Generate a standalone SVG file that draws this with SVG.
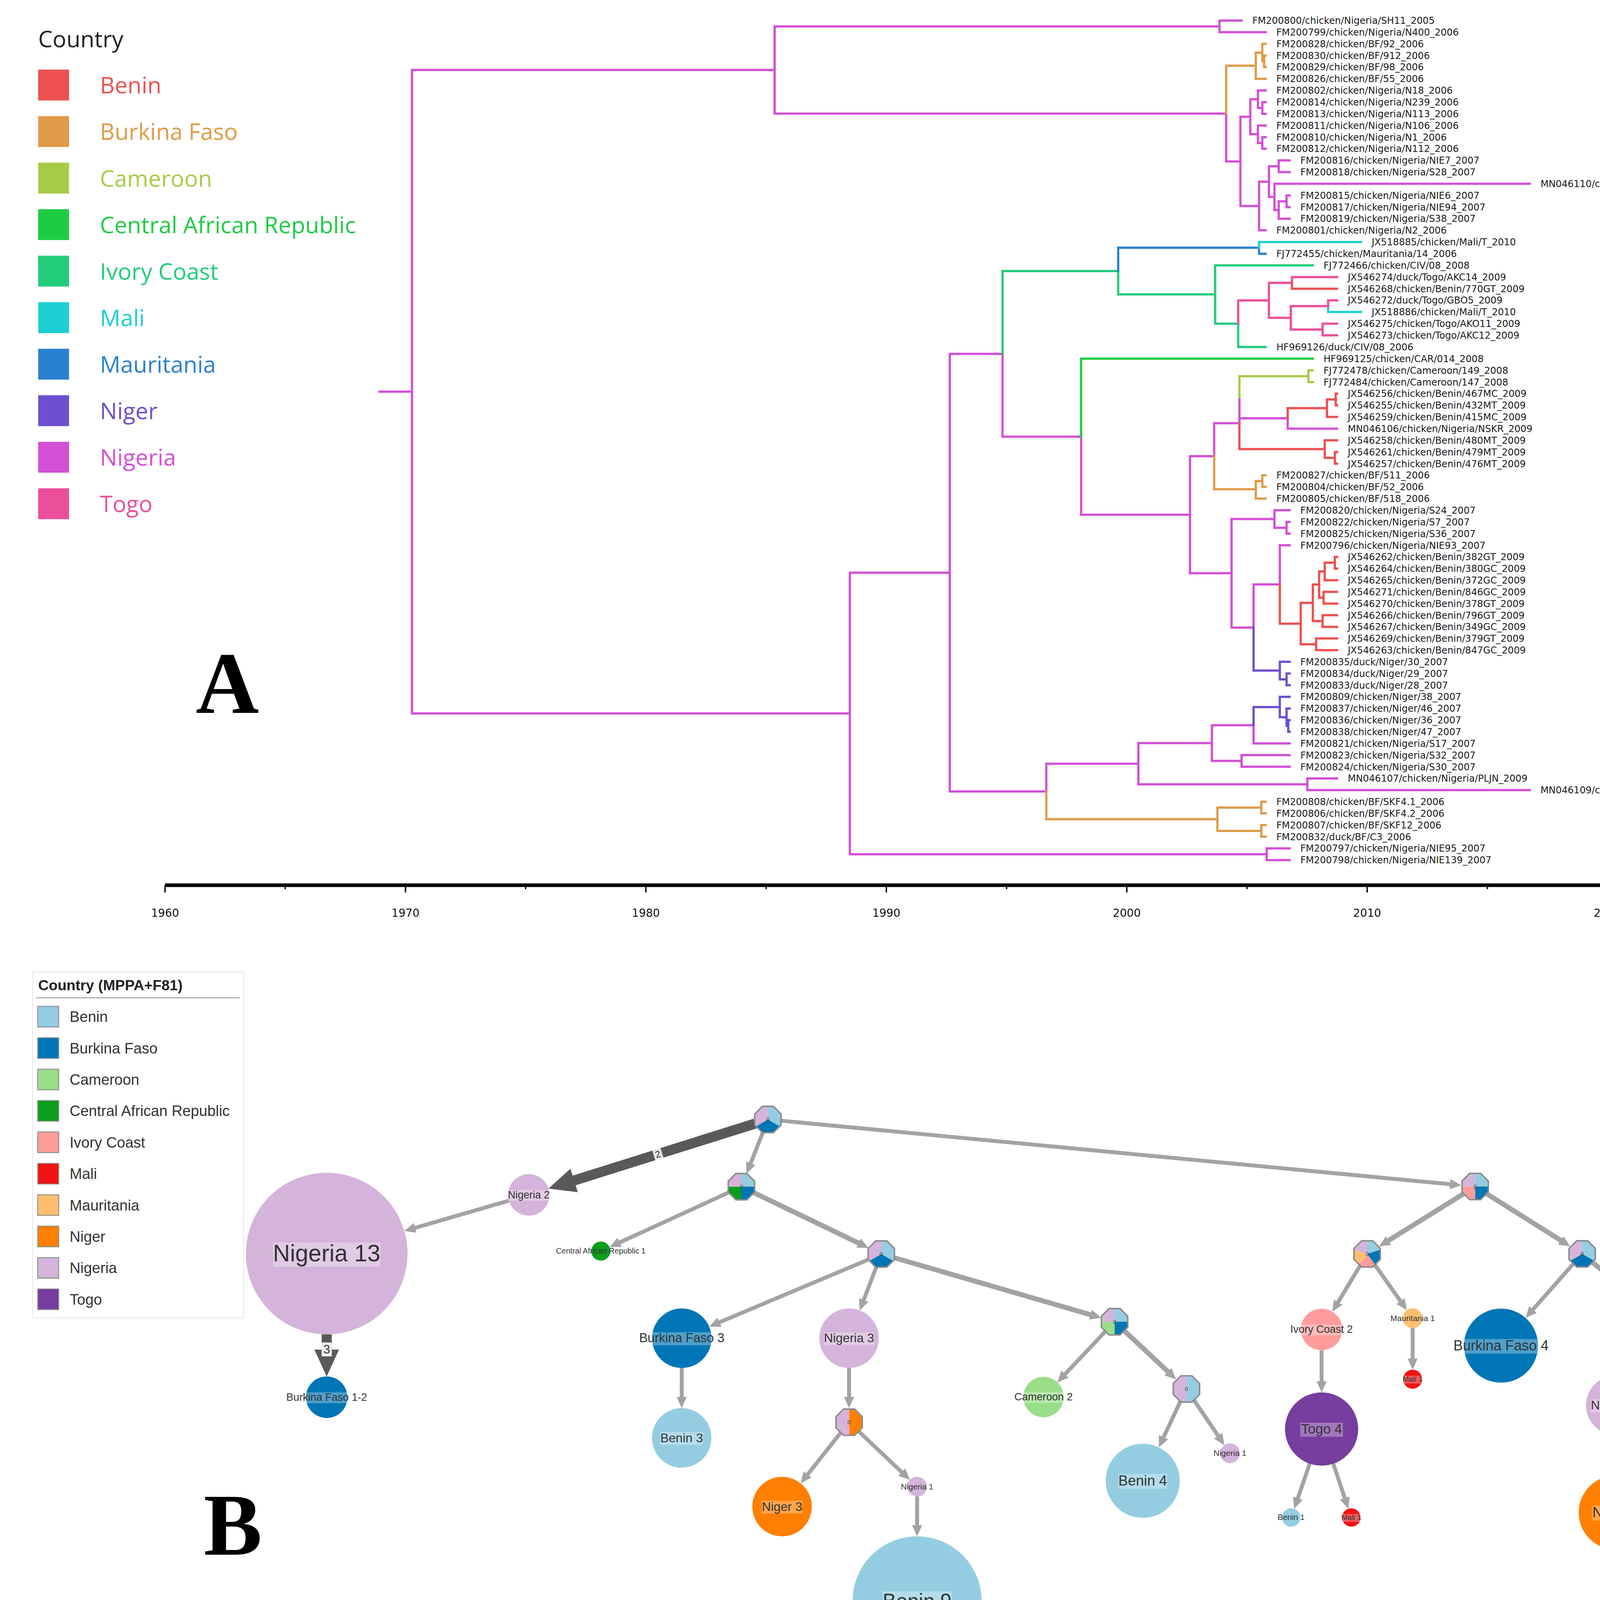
<svg xmlns="http://www.w3.org/2000/svg" width="4489" height="4326" viewBox="0 0 4489 4326">
<defs>
<style>
.b{fill:none;stroke-width:2;stroke-linecap:square}
.cN{stroke:#d24fd6}.cBF{stroke:#e09a48}.cCM{stroke:#a6cc46}.cCAR{stroke:#1ecc44}.cIC{stroke:#22cc7a}.cML{stroke:#1ecfd2}.cMR{stroke:#2c80d2}.cNG{stroke:#6e4fd2}.cBN{stroke:#ee5050}.cTG{stroke:#ec4f9a}
.tip text{font-family:'DejaVu Sans',sans-serif;font-size:8.4px;fill:#1a1a1a}
.ax{font-family:'DejaVu Sans',sans-serif;font-size:9.8px;fill:#111;text-anchor:middle}
.lgA{font-family:'Open Sans','Liberation Sans',sans-serif;font-size:20.4px}
.lgB{font-family:'Liberation Sans',Arial,sans-serif;font-size:13.3px;fill:#333}
.sw{stroke:#8c8c8c;stroke-width:0.8}
.e{fill:none;stroke:#a3a3a3;stroke-width:3.5;marker-end:url(#ah)}
.w{stroke-width:4.4}
.et{fill:none;stroke:#595959;stroke-width:9;marker-end:url(#ahB)}
.lb{fill:#fff;fill-opacity:0.3}
.nt{font-family:'Liberation Sans',Arial,sans-serif;fill:#333;text-anchor:middle}
.oo{fill:none;stroke:#8a8a8a;stroke-width:1.3}
.z{font-family:'Liberation Sans',Arial,sans-serif;font-size:5px;fill:#444;text-anchor:middle}
.big{font-family:'Liberation Serif','Times New Roman',serif;font-weight:bold;font-size:78px;fill:#000;text-anchor:middle}
</style>
<marker id="ah" viewBox="0 0 10 9" refX="1" refY="4.5" markerWidth="10" markerHeight="9" markerUnits="userSpaceOnUse" orient="auto"><path d="M0,0L10,4.5L0,9Z" fill="#a3a3a3"/></marker>
<marker id="ahB" viewBox="0 0 24 22" refX="1" refY="11" markerWidth="24" markerHeight="22" markerUnits="userSpaceOnUse" orient="auto"><path d="M0,0L24,11L0,22Z" fill="#595959"/></marker>
<clipPath id="oc"><polygon points="11.73,4.86 4.86,11.73 -4.86,11.73 -11.73,4.86 -11.73,-4.86 -4.86,-11.73 4.86,-11.73 11.73,-4.86"/></clipPath>
<polygon id="octP" points="11.73,4.86 4.86,11.73 -4.86,11.73 -11.73,4.86 -11.73,-4.86 -4.86,-11.73 4.86,-11.73 11.73,-4.86"/>
</defs>
<rect width="4489" height="4326" fill="#fff"/>
<g transform="scale(2.874)">

<!-- ============ PANEL A legend ============ -->
<g id="legendA">
<text class="lgA" x="34" y="42" fill="#222">Country</text>
<rect x="34" y="62" width="27.5" height="27.5" fill="#ee5050"/><text class="lgA" x="89" y="83.3" fill="#ee5050">Benin</text>
<rect x="34" y="103.44" width="27.5" height="27.5" fill="#e09a48"/><text class="lgA" x="89" y="124.74" fill="#e09a48">Burkina Faso</text>
<rect x="34" y="144.88" width="27.5" height="27.5" fill="#a6cc46"/><text class="lgA" x="89" y="166.18" fill="#a6cc46">Cameroon</text>
<rect x="34" y="186.32" width="27.5" height="27.5" fill="#1ecc44"/><text class="lgA" x="89" y="207.62" fill="#1ecc44">Central African Republic</text>
<rect x="34" y="227.76" width="27.5" height="27.5" fill="#22cc7a"/><text class="lgA" x="89" y="249.06" fill="#22cc7a">Ivory Coast</text>
<rect x="34" y="269.2" width="27.5" height="27.5" fill="#1ecfd2"/><text class="lgA" x="89" y="290.5" fill="#1ecfd2">Mali</text>
<rect x="34" y="310.64" width="27.5" height="27.5" fill="#2c80d2"/><text class="lgA" x="89" y="331.94" fill="#2c80d2">Mauritania</text>
<rect x="34" y="352.08" width="27.5" height="27.5" fill="#6e4fd2"/><text class="lgA" x="89" y="373.38" fill="#6e4fd2">Niger</text>
<rect x="34" y="393.52" width="27.5" height="27.5" fill="#d24fd6"/><text class="lgA" x="89" y="414.82" fill="#d24fd6">Nigeria</text>
<rect x="34" y="434.96" width="27.5" height="27.5" fill="#ec4f9a"/><text class="lgA" x="89" y="456.26" fill="#ec4f9a">Togo</text>
</g>

<text class="big" x="202.5" y="635">A</text>
<text class="big" x="207.5" y="1385">B</text>

<!-- ============ PANEL A tree ============ -->
<g id="treeA-branches">
<path class="b cN" d="M338 348.9H367M367 62.35V635.5M367 62.35H690M690 23.5V101.2M690 23.5H1086.3M1086.3 18.3V28.7M1086.3 18.3H1106M1086.3 28.7H1127.4M690 101.2H1092.2M1092.2 101.2V143.8M1092.2 143.8H1104.9M1104.9 104V183.5M1104.9 104H1113.7M1113.7 88.4V119.6M1113.7 88.4H1120.5M1120.5 80.6V96.2M1120.5 80.6H1127.4M1120.5 96.2H1124.4M1124.4 91V101.4M1124.4 91H1127.4M1124.4 101.4H1127.4M1113.7 119.6H1120.5M1120.5 111.8V127.4M1120.5 111.8H1127.4M1120.5 127.4H1124.4M1124.4 122.2V132.5M1124.4 122.2H1127.4M1124.4 132.5H1127.4M1104.9 183.5H1121.5M1121.5 161.8V205.2M1121.5 205.2H1127.4M1121.5 161.8H1130.3M1130.3 148.1V175.4M1130.3 148.1H1139M1139 142.9V153.3M1139 142.9H1148.8M1139 153.3H1148.8M1130.3 175.4H1135.2M1135.2 163.7V187.1M1135.2 163.7H1362.7M1135.2 187.1H1139M1139 179.3V194.8M1139 194.8H1148.8M1139 179.3H1146M1146 174.1V184.5M1146 174.1H1148.8M1146 184.5H1148.8"/>
<path class="b cN" d="M367 635.5H757M757 510.1V760.9M757 760.9H1128.3M1128.3 755.7V766.1M1128.3 755.7H1148.8M1128.3 766.1H1148.8M757 510.1H846M846 315.2V705M846 315.2H893M893 315.2V389M893 389H963M963 389V458.5M963 458.5H1060M1060 406.35V510.6M1060 406.35H1081.5M1081.5 376.95V406.35M1081.5 376.95H1104M1104 353.9V376.95M1104 372.65H1147M1147 372.65V381.8M1147 381.8H1191M1060 510.6H1097M1097 462.3V559M1097 462.3H1135.2M1135.2 454.5V470.1M1135.2 454.5H1148.8M1135.2 470.1H1146M1146 464.9V475.3M1146 464.9H1148.8M1146 475.3H1148.8M1097 559H1116.6M1116.6 520.6V559M1116.6 520.6H1140M1140 485.7V520.6M1140 485.7H1148.8M846 705H932M932 680.25V705M932 680.25H1014M1014 661.9V698.6M1014 661.9H1079.5M1079.5 646V677.8M1079.5 646H1116.6M1116.6 646V662.2M1116.6 662.2H1148.8M1079.5 677.8H1105.9M1105.9 672.6V683M1105.9 672.6H1148.8M1105.9 683H1148.8M1014 698.6H1164.5M1164.5 693.4V703.8M1164.5 693.4H1191M1164.5 703.8H1362.7"/>
<path class="b cIC" d="M893 241.4V315.2M893 241.4H996M996 241.4V262.2M996 262.2H1082.4M1082.4 236.4V288.35M1082.4 236.4H1169.4M1082.4 288.35H1102.9M1102.9 288.35V309.1M1102.9 309.1H1127.4"/>
<path class="b cMR" d="M996 220.6V241.4M996 220.6H1121.5M1121.5 220.6V226M1121.5 226H1127.4"/>
<path class="b cML" d="M1121.5 215.6V220.6M1121.5 215.6H1212.3M1183 272.7V277.9M1183 277.9H1212.3"/>
<path class="b cTG" d="M1102.9 267.6V288.35M1102.9 267.6H1130.3M1130.3 252V283.1M1130.3 252H1150.8M1150.8 246.8V252M1150.8 246.8H1191M1130.3 283.1H1149.8M1149.8 272.7V293.5M1149.8 272.7H1183M1183 267.5V272.7M1183 267.5H1191M1149.8 293.5H1178.1M1178.1 288.3V298.7M1178.1 288.3H1191M1178.1 298.7H1191"/>
<path class="b cBN" d="M1150.8 252V257.2M1150.8 257.2H1191M1104 376.95V400M1104 400H1180M1180 392.2V407.8M1180 392.2H1191M1180 407.8H1189M1189 402.6V413M1189 402.6H1191M1189 413H1191M1147 363.6V372.65M1147 363.6H1182M1182 355.8V371.4M1182 355.8H1189.8M1189.8 350.6V361M1189.8 350.6H1191M1189.8 361H1191M1182 371.4H1191M1140 520.6V555.5M1140 555.5H1158.6M1158.6 537V573.9M1158.6 537H1169.4M1169.4 520.7V553.2M1169.4 520.7H1175M1175 509V532.4M1175 509H1180M1180 501.2V516.8M1180 501.2H1189M1189 496V506.4M1189 496H1191M1189 506.4H1191M1180 516.8H1191M1175 532.4H1179M1179 527.2V537.6M1179 527.2H1191M1179 537.6H1191M1169.4 553.2H1178.1M1178.1 548V558.4M1178.1 548H1191M1178.1 558.4H1191M1158.6 573.9H1172.3M1172.3 568.7V579.1M1172.3 568.7H1191M1172.3 579.1H1191"/>
<path class="b cBF" d="M1092.2 58.5V101.2M1092.2 58.5H1118.6M1118.6 46.9V70.2M1118.6 46.9H1124.4M1124.4 39.1V54.6M1124.4 39.1H1127.4M1124.4 54.6H1126M1126 49.5V59.8M1126 49.5H1127.4M1126 59.8H1127.4M1118.6 70.2H1127.4M1081.5 406.35V435.8M1081.5 435.8H1118.6M1118.6 428.5V444.1M1118.6 428.5H1124.4M1124.4 423.3V433.7M1124.4 423.3H1127.4M1124.4 433.7H1127.4M1118.6 444.1H1127.4M932 705V729.7M932 729.7H1084.4M1084.4 719.3V740.1M1084.4 719.3H1123.5M1123.5 714.1V724.5M1123.5 714.1H1127.4M1123.5 724.5H1127.4M1084.4 740.1H1123.5M1123.5 734.9V745.3M1123.5 734.9H1127.4M1123.5 745.3H1127.4"/>
<path class="b cCM" d="M1104 335.1V353.9M1104 335.1H1165.4M1165.4 329.9V340.3M1165.4 329.9H1169.4M1165.4 340.3H1169.4"/>
<path class="b cCAR" d="M963 319.5V389M963 319.5H1169.4"/>
<path class="b cNG" d="M1116.6 559V597.3M1116.6 597.3H1140M1140 589.5V605.1M1140 589.5H1148.8M1140 605.1H1146M1146 599.9V610.3M1146 599.9H1148.8M1146 610.3H1148.8M1116.6 629.8V646M1116.6 629.8H1140M1140 620.7V638.85M1140 620.7H1148.8M1140 638.85H1146M1146 631.1V646.6M1146 631.1H1148.8M1146 646.6H1147.5M1147.5 641.4V651.8M1147.5 641.4H1148.8M1147.5 651.8H1148.8"/>
</g>

<g id="treeA-tips" class="tip">
<text x="1115.5" y="21.3">FM200800/chicken/Nigeria/SH11_2005</text>
<text x="1136.9" y="31.7">FM200799/chicken/Nigeria/N400_2006</text>
<text x="1136.9" y="42.1">FM200828/chicken/BF/92_2006</text>
<text x="1136.9" y="52.5">FM200830/chicken/BF/912_2006</text>
<text x="1136.9" y="62.8">FM200829/chicken/BF/98_2006</text>
<text x="1136.9" y="73.2">FM200826/chicken/BF/55_2006</text>
<text x="1136.9" y="83.6">FM200802/chicken/Nigeria/N18_2006</text>
<text x="1136.9" y="94">FM200814/chicken/Nigeria/N239_2006</text>
<text x="1136.9" y="104.4">FM200813/chicken/Nigeria/N113_2006</text>
<text x="1136.9" y="114.8">FM200811/chicken/Nigeria/N106_2006</text>
<text x="1136.9" y="125.2">FM200810/chicken/Nigeria/N1_2006</text>
<text x="1136.9" y="135.5">FM200812/chicken/Nigeria/N112_2006</text>
<text x="1158.3" y="145.9">FM200816/chicken/Nigeria/NIE7_2007</text>
<text x="1158.3" y="156.3">FM200818/chicken/Nigeria/S28_2007</text>
<text x="1372.2" y="166.7">MN046110/chicken/Nigeria/PLJS_2017</text>
<text x="1158.3" y="177.1">FM200815/chicken/Nigeria/NIE6_2007</text>
<text x="1158.3" y="187.5">FM200817/chicken/Nigeria/NIE94_2007</text>
<text x="1158.3" y="197.8">FM200819/chicken/Nigeria/S38_2007</text>
<text x="1136.9" y="208.2">FM200801/chicken/Nigeria/N2_2006</text>
<text x="1221.8" y="218.6">JX518885/chicken/Mali/T_2010</text>
<text x="1136.9" y="229">FJ772455/chicken/Mauritania/14_2006</text>
<text x="1178.9" y="239.4">FJ772466/chicken/CIV/08_2008</text>
<text x="1200.5" y="249.8">JX546274/duck/Togo/AKC14_2009</text>
<text x="1200.5" y="260.2">JX546268/chicken/Benin/770GT_2009</text>
<text x="1200.5" y="270.5">JX546272/duck/Togo/GBO5_2009</text>
<text x="1221.8" y="280.9">JX518886/chicken/Mali/T_2010</text>
<text x="1200.5" y="291.3">JX546275/chicken/Togo/AKO11_2009</text>
<text x="1200.5" y="301.7">JX546273/chicken/Togo/AKC12_2009</text>
<text x="1136.9" y="312.1">HF969126/duck/CIV/08_2006</text>
<text x="1178.9" y="322.5">HF969125/chicken/CAR/014_2008</text>
<text x="1178.9" y="332.9">FJ772478/chicken/Cameroon/149_2008</text>
<text x="1178.9" y="343.3">FJ772484/chicken/Cameroon/147_2008</text>
<text x="1200.5" y="353.6">JX546256/chicken/Benin/467MC_2009</text>
<text x="1200.5" y="364">JX546255/chicken/Benin/432MT_2009</text>
<text x="1200.5" y="374.4">JX546259/chicken/Benin/415MC_2009</text>
<text x="1200.5" y="384.8">MN046106/chicken/Nigeria/NSKR_2009</text>
<text x="1200.5" y="395.2">JX546258/chicken/Benin/480MT_2009</text>
<text x="1200.5" y="405.6">JX546261/chicken/Benin/479MT_2009</text>
<text x="1200.5" y="416">JX546257/chicken/Benin/476MT_2009</text>
<text x="1136.9" y="426.3">FM200827/chicken/BF/511_2006</text>
<text x="1136.9" y="436.7">FM200804/chicken/BF/52_2006</text>
<text x="1136.9" y="447.1">FM200805/chicken/BF/518_2006</text>
<text x="1158.3" y="457.5">FM200820/chicken/Nigeria/S24_2007</text>
<text x="1158.3" y="467.9">FM200822/chicken/Nigeria/S7_2007</text>
<text x="1158.3" y="478.3">FM200825/chicken/Nigeria/S36_2007</text>
<text x="1158.3" y="488.7">FM200796/chicken/Nigeria/NIE93_2007</text>
<text x="1200.5" y="499">JX546262/chicken/Benin/382GT_2009</text>
<text x="1200.5" y="509.4">JX546264/chicken/Benin/380GC_2009</text>
<text x="1200.5" y="519.8">JX546265/chicken/Benin/372GC_2009</text>
<text x="1200.5" y="530.2">JX546271/chicken/Benin/846GC_2009</text>
<text x="1200.5" y="540.6">JX546270/chicken/Benin/378GT_2009</text>
<text x="1200.5" y="551">JX546266/chicken/Benin/796GT_2009</text>
<text x="1200.5" y="561.4">JX546267/chicken/Benin/349GC_2009</text>
<text x="1200.5" y="571.7">JX546269/chicken/Benin/379GT_2009</text>
<text x="1200.5" y="582.1">JX546263/chicken/Benin/847GC_2009</text>
<text x="1158.3" y="592.5">FM200835/duck/Niger/30_2007</text>
<text x="1158.3" y="602.9">FM200834/duck/Niger/29_2007</text>
<text x="1158.3" y="613.3">FM200833/duck/Niger/28_2007</text>
<text x="1158.3" y="623.7">FM200809/chicken/Niger/38_2007</text>
<text x="1158.3" y="634.1">FM200837/chicken/Niger/46_2007</text>
<text x="1158.3" y="644.4">FM200836/chicken/Niger/36_2007</text>
<text x="1158.3" y="654.8">FM200838/chicken/Niger/47_2007</text>
<text x="1158.3" y="665.2">FM200821/chicken/Nigeria/S17_2007</text>
<text x="1158.3" y="675.6">FM200823/chicken/Nigeria/S32_2007</text>
<text x="1158.3" y="686">FM200824/chicken/Nigeria/S30_2007</text>
<text x="1200.5" y="696.4">MN046107/chicken/Nigeria/PLJN_2009</text>
<text x="1372.2" y="706.8">MN046109/chicken/Nigeria/PLJS_2017</text>
<text x="1136.9" y="717.1">FM200808/chicken/BF/SKF4.1_2006</text>
<text x="1136.9" y="727.5">FM200806/chicken/BF/SKF4.2_2006</text>
<text x="1136.9" y="737.9">FM200807/chicken/BF/SKF12_2006</text>
<text x="1136.9" y="748.3">FM200832/duck/BF/C3_2006</text>
<text x="1158.3" y="758.7">FM200797/chicken/Nigeria/NIE95_2007</text>
<text x="1158.3" y="769.1">FM200798/chicken/Nigeria/NIE139_2007</text>
</g>

<g id="axisA">
<path d="M147 788.5H1432" stroke="#000" stroke-width="3.2" fill="none"/>
<path d="M147 788.5V795M254.1 788.5V792M361.2 788.5V795M468.2 788.5V792M575.3 788.5V795M682.4 788.5V792M789.5 788.5V795M896.6 788.5V792M1003.7 788.5V795M1110.7 788.5V792M1217.8 788.5V795M1324.9 788.5V792M1432 788.5V795" stroke="#000" stroke-width="1.2" fill="none"/>
<text class="ax" x="147" y="816.5">1960</text>
<text class="ax" x="361.2" y="816.5">1970</text>
<text class="ax" x="575.3" y="816.5">1980</text>
<text class="ax" x="789.5" y="816.5">1990</text>
<text class="ax" x="1003.7" y="816.5">2000</text>
<text class="ax" x="1217.8" y="816.5">2010</text>
<text class="ax" x="1432" y="816.5">2020</text>
</g>

<!-- ============ PANEL B legend ============ -->
<g id="legendB">
<rect x="29" y="866" width="188" height="308" fill="none" stroke="#ececec" stroke-width="1"/>
<text x="34" y="882" font-family="'Liberation Sans',Arial,sans-serif" font-size="13" font-weight="bold" fill="#222">Country (MPPA+F81)</text>
<path d="M32 888.8H213.6" stroke="#aaa" stroke-width="1"/>
<rect class="sw" x="33.6" y="896.4" width="18.7" height="18.4" fill="#94cde2"/><text class="lgB" x="62" y="910.3">Benin</text>
<rect class="sw" x="33.6" y="924.37" width="18.7" height="18.4" fill="#0076b6"/><text class="lgB" x="62" y="938.27">Burkina Faso</text>
<rect class="sw" x="33.6" y="952.34" width="18.7" height="18.4" fill="#9ade8a"/><text class="lgB" x="62" y="966.24">Cameroon</text>
<rect class="sw" x="33.6" y="980.31" width="18.7" height="18.4" fill="#0b9e1c"/><text class="lgB" x="62" y="994.21">Central African Republic</text>
<rect class="sw" x="33.6" y="1008.28" width="18.7" height="18.4" fill="#fe9d9b"/><text class="lgB" x="62" y="1022.18">Ivory Coast</text>
<rect class="sw" x="33.6" y="1036.25" width="18.7" height="18.4" fill="#f01414"/><text class="lgB" x="62" y="1050.15">Mali</text>
<rect class="sw" x="33.6" y="1064.22" width="18.7" height="18.4" fill="#fdbf6f"/><text class="lgB" x="62" y="1078.12">Mauritania</text>
<rect class="sw" x="33.6" y="1092.19" width="18.7" height="18.4" fill="#ff8000"/><text class="lgB" x="62" y="1106.09">Niger</text>
<rect class="sw" x="33.6" y="1120.16" width="18.7" height="18.4" fill="#d4b4da"/><text class="lgB" x="62" y="1134.06">Nigeria</text>
<rect class="sw" x="33.6" y="1148.13" width="18.7" height="18.4" fill="#773d9f"/><text class="lgB" x="62" y="1162.03">Togo</text>
</g>

<!-- ============ PANEL B connectors ============ -->
<g id="edgesB">
<path class="e" d="M679.6 1008.4L668.3 1037"/>
<path class="e" d="M696 998.3L1292.6 1054.9"/>
<path class="et" d="M672.6 1000.8L510.5 1051.8"/>
<path class="e" d="M453.2 1069.5L368.8 1094"/>
<path class="et" d="M291 1188.6V1203.1"/>
<path class="e" d="M649.5 1062L551.1 1107.1"/>
<path class="e w" d="M671.2 1062.2L765.6 1107.7"/>
<path class="e" d="M774 1121.7L640 1178.2"/>
<path class="e" d="M780.7 1128.2L769 1158.9"/>
<path class="e w" d="M796.5 1120.3L972.2 1171.3"/>
<path class="e" d="M607.3 1218.5L607.2 1245.3"/>
<path class="e" d="M756.3 1218.5V1245.3"/>
<path class="e" d="M748.8 1276.2L718.7 1314.2"/>
<path class="e" d="M765 1275.1L804 1312"/>
<path class="e" d="M816.9 1333V1359.5"/>
<path class="e" d="M984.6 1186L948 1224.8"/>
<path class="e w" d="M1001.6 1185.5L1041.1 1222.5"/>
<path class="e" d="M1051.6 1248L1036 1281.1"/>
<path class="e" d="M1063.5 1247.1L1085.6 1279.8"/>
<path class="e w" d="M1303.8 1063.3L1236 1105.5"/>
<path class="e w" d="M1324.2 1063.3L1391.1 1105.4"/>
<path class="e" d="M1211.6 1127.2L1191.4 1160.7"/>
<path class="e" d="M1224.7 1126.7L1248 1159.7"/>
<path class="e" d="M1177.2 1202.7V1231.3"/>
<path class="e" d="M1258.3 1183V1211"/>
<path class="e" d="M1166.6 1303.7L1155.7 1335.5"/>
<path class="e" d="M1187.6 1303.8L1198.2 1335.4"/>
<path class="e" d="M1401.3 1125.9L1364.8 1167.2"/>
<path class="e w" d="M1418.6 1124.5L1466.7 1163.9"/>
<path class="e" d="M1477.2 1187.8L1457.3 1221.3"/>
<path class="e" d="M1489.9 1187.5L1512 1220.9"/>
<path class="e" d="M1439.2 1278.3V1305.3"/>
<g transform="translate(586 1028) rotate(-17.5)"><rect x="-3.8" y="-4.8" width="7.6" height="9.6" fill="#e8e8e8"/><text class="nt" y="3" font-size="8.5">2</text></g>
<rect x="286.5" y="1195.8" width="9" height="12.4" fill="#eeeeee"/><text class="nt" x="291" y="1205.8" font-size="11">3</text>
</g>

<!-- ============ PANEL B nodes ============ -->
<g id="oct-root" transform="translate(684 997.2)"><g clip-path="url(#oc)"><path d="M0 0L0 -14A14 14 0 0 1 12.12 7Z" fill="#94cde2"/><path d="M0 0L12.12 7A14 14 0 0 1 -12.12 7Z" fill="#0076b6"/><path d="M0 0L-12.12 7A14 14 0 0 1 0 -14Z" fill="#d4b4da"/></g><use href="#octP" class="oo"/><text class="z" y="1.8">0</text></g>
<g id="oct-2" transform="translate(660.4 1057)"><g clip-path="url(#oc)"><path d="M0 0L0 -14A14 14 0 0 1 14 0Z" fill="#94cde2"/><path d="M0 0L14 0A14 14 0 0 1 0 14Z" fill="#0076b6"/><path d="M0 0L0 14A14 14 0 0 1 -14 0Z" fill="#0b9e1c"/><path d="M0 0L-14 0A14 14 0 0 1 0 -14Z" fill="#d4b4da"/></g><use href="#octP" class="oo"/><text class="z" y="1.8">0</text></g>
<g id="oct-3" transform="translate(785 1117)"><g clip-path="url(#oc)"><path d="M0 0L0 -14A14 14 0 0 1 12.12 7Z" fill="#94cde2"/><path d="M0 0L12.12 7A14 14 0 0 1 -12.12 7Z" fill="#0076b6"/><path d="M0 0L-12.12 7A14 14 0 0 1 0 -14Z" fill="#d4b4da"/></g><use href="#octP" class="oo"/><text class="z" y="1.8">0</text></g>
<g id="oct-4" transform="translate(756.3 1266.8)"><g clip-path="url(#oc)"><path d="M0 -14A14 14 0 0 1 0 14Z" fill="#ff8000"/><path d="M0 14A14 14 0 0 1 0 -14Z" fill="#d4b4da"/></g><use href="#octP" class="oo"/><text class="z" y="1.8">0</text></g>
<g id="oct-5" transform="translate(992.8 1177.3)"><g clip-path="url(#oc)"><path d="M0 0L0 -14A14 14 0 0 1 14 0Z" fill="#94cde2"/><path d="M0 0L14 0A14 14 0 0 1 0 14Z" fill="#0076b6"/><path d="M0 0L0 14A14 14 0 0 1 -14 0Z" fill="#9ade8a"/><path d="M0 0L-14 0A14 14 0 0 1 0 -14Z" fill="#d4b4da"/></g><use href="#octP" class="oo"/><text class="z" y="1.8">0</text></g>
<g id="oct-6" transform="translate(1056.8 1237.2)"><g clip-path="url(#oc)"><path d="M0 -14A14 14 0 0 1 0 14Z" fill="#94cde2"/><path d="M0 14A14 14 0 0 1 0 -14Z" fill="#d4b4da"/></g><use href="#octP" class="oo"/><text class="z" y="1.8">0</text></g>
<g id="oct-7" transform="translate(1314 1056.9)"><g clip-path="url(#oc)"><path d="M0 0L0 -14A14 14 0 0 1 14 0Z" fill="#94cde2"/><path d="M0 0L14 0A14 14 0 0 1 0 14Z" fill="#0076b6"/><path d="M0 0L0 14A14 14 0 0 1 -14 0Z" fill="#fe9d9b"/><path d="M0 0L-14 0A14 14 0 0 1 0 -14Z" fill="#d4b4da"/></g><use href="#octP" class="oo"/><text class="z" y="1.8">0</text></g>
<g id="oct-8" transform="translate(1217.8 1116.9)"><g clip-path="url(#oc)"><path d="M0 0L0 -14A14 14 0 0 1 13.31 -4.33Z" fill="#94cde2"/><path d="M0 0L13.31 -4.33A14 14 0 0 1 8.23 11.33Z" fill="#0076b6"/><path d="M0 0L8.23 11.33A14 14 0 0 1 -8.23 11.33Z" fill="#fe9d9b"/><path d="M0 0L-8.23 11.33A14 14 0 0 1 -13.31 -4.33Z" fill="#fdbf6f"/><path d="M0 0L-13.31 -4.33A14 14 0 0 1 0 -14Z" fill="#d4b4da"/></g><use href="#octP" class="oo"/><text class="z" y="1.8">0</text></g>
<g id="oct-9" transform="translate(1409.3 1116.9)"><g clip-path="url(#oc)"><path d="M0 0L0 -14A14 14 0 0 1 12.12 7Z" fill="#94cde2"/><path d="M0 0L12.12 7A14 14 0 0 1 -12.12 7Z" fill="#0076b6"/><path d="M0 0L-12.12 7A14 14 0 0 1 0 -14Z" fill="#d4b4da"/></g><use href="#octP" class="oo"/><text class="z" y="1.8">0</text></g>
<g id="oct-10" transform="translate(1483.3 1177.5)"><g clip-path="url(#oc)"><path d="M0 -14A14 14 0 0 1 0 14Z" fill="#0076b6"/><path d="M0 14A14 14 0 0 1 0 -14Z" fill="#d4b4da"/></g><use href="#octP" class="oo"/><text class="z" y="1.8">0</text></g>

<g id="n-nigeria13"><circle cx="291" cy="1116.6" r="72" fill="#d4b4da"/><rect class="lb" x="243.2" y="1106.7" width="95.7" height="21.6"/><text class="nt" x="291" y="1123.5" font-size="21">Nigeria 13</text></g>
<g id="n-nigeria2a"><circle cx="471" cy="1064.3" r="18.5" fill="#d4b4da"/><rect class="lb" x="452.4" y="1059.9" width="37.2" height="9.6"/><text class="nt" x="471" y="1067.4" font-size="9.3">Nigeria 2</text></g>
<g id="n-bf12"><circle cx="291" cy="1244.6" r="18.5" fill="#0076b6"/><rect class="lb" x="255" y="1240.2" width="72" height="9.7"/><text class="nt" x="291" y="1247.7" font-size="9.45">Burkina Faso 1-2</text></g>
<g id="n-car1"><circle cx="535.2" cy="1114.4" r="8.5" fill="#0b9e1c"/><text class="nt" x="535.2" y="1116.7" font-size="6.9">Central African Republic 1</text></g>
<g id="n-bf3"><circle cx="607.3" cy="1192" r="26.5" fill="#0076b6"/><rect class="lb" x="569.3" y="1186.7" width="76" height="11.6"/><text class="nt" x="607.3" y="1195.7" font-size="11.3">Burkina Faso 3</text></g>
<g id="n-nigeria3a"><circle cx="756.3" cy="1192" r="26.5" fill="#d4b4da"/><rect class="lb" x="733.9" y="1186.7" width="44.8" height="11.5"/><text class="nt" x="756.3" y="1195.7" font-size="11.2">Nigeria 3</text></g>
<g id="n-benin3"><circle cx="607.2" cy="1280.8" r="26.5" fill="#94cde2"/><rect class="lb" x="588.2" y="1275.5" width="38" height="11.5"/><text class="nt" x="607.2" y="1284.5" font-size="11.2">Benin 3</text></g>
<g id="n-niger3"><circle cx="696.6" cy="1342" r="26.5" fill="#ff8000"/><rect class="lb" x="678.5" y="1336.7" width="36.1" height="11.5"/><text class="nt" x="696.6" y="1345.7" font-size="11.2">Niger 3</text></g>
<g id="n-nigeria1a"><circle cx="816.9" cy="1324.2" r="8.8" fill="#d4b4da"/><text class="nt" x="816.9" y="1326.6" font-size="7.2">Nigeria 1</text></g>
<g id="n-benin9"><circle cx="816.9" cy="1426" r="57.5" fill="#94cde2"/><rect class="lb" x="786.2" y="1417.5" width="61.4" height="18.6"/><text class="nt" x="816.9" y="1432" font-size="18.1">Benin 9</text></g>
<g id="n-cameroon2"><circle cx="929.5" cy="1244.4" r="18" fill="#9ade8a"/><rect class="lb" x="903.5" y="1240" width="52" height="9.7"/><text class="nt" x="929.5" y="1247.5" font-size="9.45">Cameroon 2</text></g>
<g id="n-benin4"><circle cx="1017.9" cy="1319" r="33" fill="#94cde2"/><rect class="lb" x="996.2" y="1313" width="43.4" height="13.2"/><text class="nt" x="1017.9" y="1323.2" font-size="12.8">Benin 4</text></g>
<g id="n-nigeria1b"><circle cx="1095.6" cy="1294.5" r="8.8" fill="#d4b4da"/><text class="nt" x="1095.6" y="1296.9" font-size="7.3">Nigeria 1</text></g>
<g id="n-ivorycoast2"><circle cx="1177.2" cy="1184.2" r="18.5" fill="#fe9d9b"/><rect class="lb" x="1149.4" y="1179.8" width="55.7" height="9.7"/><text class="nt" x="1177.2" y="1187.3" font-size="9.45">Ivory Coast 2</text></g>
<g id="n-mauritania1"><circle cx="1258.3" cy="1174.2" r="8.8" fill="#fdbf6f"/><text class="nt" x="1258.3" y="1176.6" font-size="7.2">Mauritania 1</text></g>
<g id="n-mali1a"><circle cx="1258.3" cy="1228.5" r="8.5" fill="#f01414"/><rect class="lb" x="1249.4" y="1225.4" width="17.9" height="6.9"/><text class="nt" x="1258.3" y="1230.7" font-size="6.7">Mali 1</text></g>
<g id="n-togo4"><circle cx="1177.2" cy="1272.9" r="32.6" fill="#773d9f"/><rect class="lb" x="1158.2" y="1267.2" width="38" height="12.6"/><text class="nt" x="1177.2" y="1276.9" font-size="12.2">Togo 4</text></g>
<g id="n-benin1"><circle cx="1150.1" cy="1351.7" r="8.2" fill="#94cde2"/><text class="nt" x="1150.1" y="1354" font-size="7.1">Benin 1</text></g>
<g id="n-mali1b"><circle cx="1203.7" cy="1351.7" r="8.2" fill="#f01414"/><rect class="lb" x="1194.8" y="1348.6" width="17.9" height="6.9"/><text class="nt" x="1203.7" y="1353.9" font-size="6.7">Mali 1</text></g>
<g id="n-bf4"><circle cx="1337" cy="1198.6" r="33" fill="#0076b6"/><rect class="lb" x="1294.7" y="1192.7" width="84.7" height="13"/><text class="nt" x="1337" y="1202.8" font-size="12.6">Burkina Faso 4</text></g>
<g id="n-nigeria3b"><circle cx="1439.2" cy="1251.8" r="26.5" fill="#d4b4da"/><rect class="lb" x="1417" y="1246.6" width="44.4" height="11.4"/><text class="nt" x="1439.2" y="1255.5" font-size="11.1">Nigeria 3</text></g>
<g id="n-nigeria2b"><circle cx="1527.4" cy="1244.1" r="18.8" fill="#d4b4da"/><rect class="lb" x="1508.4" y="1239.6" width="38" height="9.8"/><text class="nt" x="1527.4" y="1247.2" font-size="9.5">Nigeria 2</text></g>
<g id="n-niger4"><circle cx="1439.2" cy="1347.3" r="33" fill="#ff8000"/><rect class="lb" x="1418.4" y="1341.2" width="41.6" height="13.3"/><text class="nt" x="1439.2" y="1351.6" font-size="12.9">Niger 4</text></g>
</g>
</svg>
